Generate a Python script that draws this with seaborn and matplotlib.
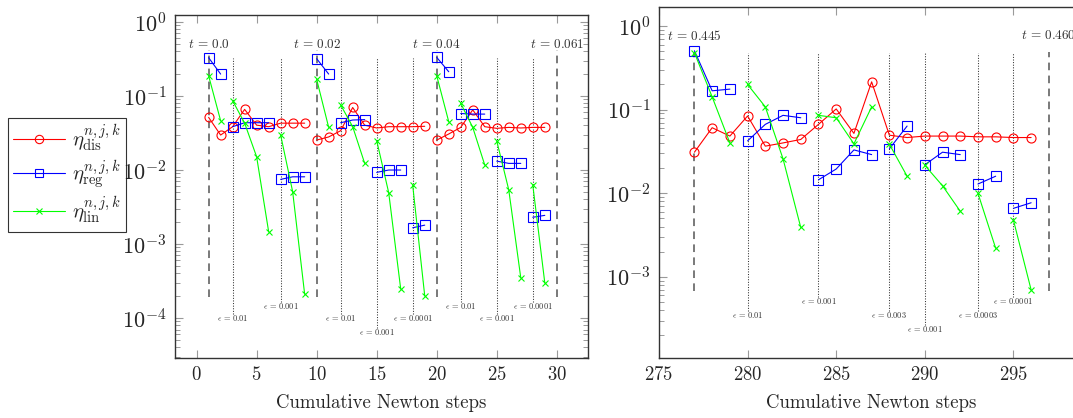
import numpy as np
import pandas as pd
import matplotlib
matplotlib.use("Agg")
import matplotlib.pyplot as plt
from matplotlib.lines import Line2D
from matplotlib.ticker import LogLocator, NullFormatter
import seaborn as sns

# ---------------- data ----------------
left_steps = list(range(1, 30))
left_dis = [0.0515, 0.0297, 0.0385, 0.066, 0.0404, 0.0385, 0.043, 0.043, 0.043,
            0.0254, 0.028, 0.034, 0.070, 0.0404, 0.037, 0.0385, 0.0385, 0.0385, 0.039,
            0.0254, 0.0307, 0.0377, 0.065, 0.0385, 0.0366, 0.0377, 0.037, 0.0377, 0.0377]
left_reg = [0.33, 0.198, 0.0385, 0.0436, 0.0436, 0.0436, 0.00748, 0.0081, 0.0081,
            0.32, 0.198, 0.0436, 0.0474, 0.048, 0.0093, 0.0100, 0.0100, 0.00166, 0.0018,
            0.333, 0.213, 0.058, 0.057, 0.057, 0.0132, 0.0123, 0.0123, 0.0023, 0.00244]
left_lin = [0.188, 0.0464, 0.0865, 0.043, 0.0151, 0.00147, 0.0297, 0.0051, 0.00021,
            0.168, 0.0377, 0.0758, 0.0385, 0.0123, 0.025, 0.00494, 0.000247, 0.0062, 0.0002,
            0.188, 0.045, 0.0796, 0.0377, 0.0117, 0.0247, 0.0054, 0.00035, 0.0063, 0.0003]
left_time_x = [1, 10, 20, 30]
left_time_labels = ["0.0", "0.02", "0.04", "0.061"]
left_eps_x = [3, 7, 12, 15, 18, 22, 25, 28]
left_eps_labels = ["0.01", "0.001", "0.01", "0.001", "0.0001", "0.01", "0.001", "0.0001"]
left_eps_level = [1, 0, 1, 2, 1, 0, 1, 0]

right_steps = list(range(277, 297))
right_dis = [0.031, 0.0608, 0.0483, 0.084, 0.0366, 0.040, 0.044, 0.0667, 0.102, 0.052,
             0.215, 0.0495, 0.0464, 0.0483, 0.0483, 0.0483, 0.0473, 0.0473, 0.0464, 0.0464]
right_reg = [0.506, 0.168, 0.176, 0.0423, 0.0667, 0.0855, 0.080, 0.0145, 0.0195, 0.033,
             0.029, 0.034, 0.0636, 0.0219, 0.031, 0.029, 0.0129, 0.016, 0.0066, 0.0077]
right_lin = [0.479, 0.142, 0.040, 0.200, 0.108, 0.0258, 0.0039, 0.0855, 0.080, 0.039,
             0.108, 0.0386, 0.016, 0.0216, 0.0123, 0.0061, 0.0100, 0.0022, 0.0048, 0.0007]
right_time_x = [277, 297]
right_time_labels = ["0.445", "0.460"]
right_eps_x = [280, 284, 288, 290, 293, 295]
right_eps_labels = ["0.01", "0.001", "0.003", "0.001", "0.0003", "0.0001"]
right_eps_level = [1, 0, 1, 2, 1, 0]

# ---------------- style ----------------
sns.set_style("ticks")
plt.rcParams["font.family"] = ["cmr10", "DejaVu Serif"]
plt.rcParams["mathtext.fontset"] = "cm"
plt.rcParams["axes.formatter.use_mathtext"] = True
plt.rcParams["axes.unicode_minus"] = False

RED, BLUE, GREEN = "#ff0000", "#0000ff", "#00ff00"
W, H = 1073, 418
fig = plt.figure(figsize=(W / 100, H / 100), dpi=100)

ax1 = fig.add_axes([175 / W, (H - 358) / H, 413 / W, 343 / H])
ax2 = fig.add_axes([659 / W, (H - 358) / H, 24 * 17.72 / W, 350.7 / H])


def build_frame(steps, dis, reg, lin, time_x, eps_x):
    steps = np.asarray(steps)
    t_seg = np.searchsorted(time_x, steps, side="right")
    bounds = sorted(set(time_x) | set(eps_x))
    e_seg = np.searchsorted(bounds, steps, side="right")
    frames = []
    for name, vals, seg in [("dis", dis, t_seg), ("reg", reg, e_seg), ("lin", lin, e_seg)]:
        frames.append(pd.DataFrame({"step": steps, "value": vals, "series": name, "seg": seg}))
    return pd.concat(frames, ignore_index=True)


styles = {
    "dis": dict(color=RED, marker="o", ms=6.5),
    "reg": dict(color=BLUE, marker="s", ms=6.5),
    "lin": dict(color=GREEN, marker="x", ms=4.5),
}


def draw_panel(ax, df, time_x, time_labels, eps_x, eps_labels, eps_level,
               ylim, xlim, xticks, vlow, vtop_dash, vtop_dot, tlabel_y, eps_ys, yticks):
    ax.set_yscale("log")
    for name in ["dis", "reg", "lin"]:
        st = styles[name]
        sub = df[df["series"] == name]
        sns.lineplot(data=sub, x="step", y="value", units="seg", estimator=None,
                     ax=ax, color=st["color"], marker=st["marker"], ms=st["ms"],
                     mfc="none", mec=st["color"], mew=0.8, lw=0.8, legend=False,
                     zorder=3)
    for x, lab in zip(time_x, time_labels):
        ax.plot([x, x], [vlow, vtop_dash], color="#555555", lw=1.1,
                dashes=(5, 3.5), zorder=1)
        ax.text(x, tlabel_y, r"$t\,=\,%s$" % lab, ha="center", va="center",
                fontsize=9.5, color="#333333", zorder=4)
    for x, lab, lv in zip(eps_x, eps_labels, eps_level):
        yb = eps_ys[lv]
        ax.plot([x, x], [yb * 1.12, vtop_dot], color="#333333", lw=0.75,
                ls=(0, (1, 1.5)), zorder=1)
        ax.text(x, yb, r"$\epsilon\,=\,%s$" % lab, ha="center", va="center",
                fontsize=6, color="#333333", zorder=4)
    ax.set_xlim(*xlim)
    ax.set_ylim(*ylim)
    ax.set_xticks(xticks)
    ax.set_yticks(yticks)
    ax.yaxis.set_minor_locator(LogLocator(base=10, subs=np.arange(2, 10), numticks=20))
    ax.yaxis.set_minor_formatter(NullFormatter())
    ax.tick_params(which="both", direction="in", top=True, right=True,
                   color="#9a9a9a", pad=6)
    ax.tick_params(axis="y", labelsize=16)
    ax.tick_params(axis="x", labelsize=13.5)
    ax.tick_params(which="major", length=6, width=0.8)
    ax.tick_params(which="minor", length=3.5, width=0.7)
    ax.tick_params(axis="x", which="minor", bottom=False, top=False)
    for sp in ax.spines.values():
        sp.set_color("#333333")
        sp.set_linewidth(1.0)
    ax.set_xlabel("Cumulative Newton steps", fontsize=13.5, labelpad=7)
    ax.set_ylabel("")


df1 = build_frame(left_steps, left_dis, left_reg, left_lin, left_time_x, left_eps_x)
df2 = build_frame(right_steps, right_dis, right_reg, right_lin, right_time_x, right_eps_x)

draw_panel(ax1, df1, left_time_x, left_time_labels, left_eps_x, left_eps_labels,
           left_eps_level, ylim=(10 ** -4.54, 10 ** 0.095), xlim=(-1.8, 32.6),
           xticks=[0, 5, 10, 15, 20, 25, 30], vlow=1.9e-4, vtop_dash=0.42,
           vtop_dot=0.33, tlabel_y=0.5, eps_ys=[1.45e-4, 1.0e-4, 6.5e-5],
           yticks=[1e-4, 1e-3, 1e-2, 1e-1, 1e0])
draw_panel(ax2, df2, right_time_x, right_time_labels, right_eps_x, right_eps_labels,
           right_eps_level, ylim=(10 ** -3.97, 10 ** 0.224), xlim=(275, 299),
           xticks=[275, 280, 285, 290, 295], vlow=6.8e-4, vtop_dash=0.49,
           vtop_dot=0.48, tlabel_y=0.76, eps_ys=[5.2e-4, 3.5e-4, 2.35e-4],
           yticks=[1e-3, 1e-2, 1e-1, 1e0])

handles = [
    Line2D([], [], color=RED, marker="o", mfc="none", mec=RED, ms=6, lw=0.8, mew=0.8),
    Line2D([], [], color=BLUE, marker="s", mfc="none", mec=BLUE, ms=6, lw=0.8, mew=0.8),
    Line2D([], [], color=GREEN, marker="x", ms=4, lw=0.8, mew=0.8),
]
labels = [r"$\eta^{n,j,k}_{\mathrm{dis}}$", r"$\eta^{n,j,k}_{\mathrm{reg}}$",
          r"$\eta^{n,j,k}_{\mathrm{lin}}$"]
leg = fig.legend(handles, labels, loc="upper left",
                 bbox_to_anchor=(8 / W, 1 - 118 / H), fontsize=15,
                 frameon=True, fancybox=False, edgecolor="black",
                 handlelength=2.5, handletextpad=0.3, borderpad=0.25,
                 labelspacing=0.2, borderaxespad=0)
leg.get_frame().set_linewidth(0.8)

fig.savefig("out.png", dpi=100)
